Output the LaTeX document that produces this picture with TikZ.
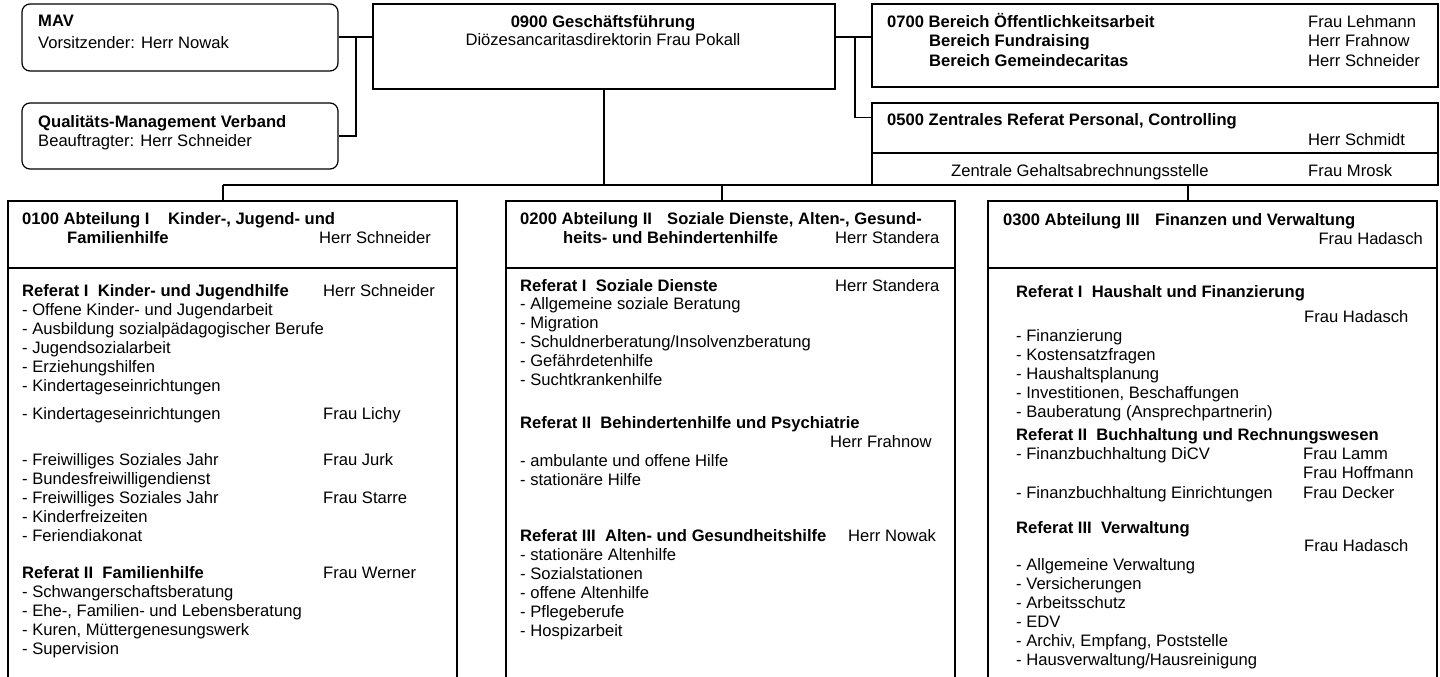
\documentclass[tikz,border=0pt]{standalone}
\usepackage{fontspec}
\setmainfont{Liberation Sans}
\usetikzlibrary{calc}
\newcounter{tn}
\newcommand\T[4][]{\stepcounter{tn}\node[txt,#1] (t\arabic{tn}) at (#2,#3) {#4};}
\newcommand\B[4][]{\T[#1]{#2}{#3}{\bfseries #4}}
\begin{document}
\begin{tikzpicture}[x=1pt,y=-1pt,
  txt/.style={anchor=base west,inner sep=0pt,font=\fontsize{16.6}{19}\selectfont,yshift=-5.7pt},
  box/.style={draw,line width=1.2pt,inner sep=0pt,rectangle},
  rbox/.style={box,rounded corners=8pt},
  gfbox/.style={box,line width=2pt},
  conn/.style={line width=1.2pt}]
\useasboundingbox (0,0) rectangle (1440,677);
\fill[white] (0,0) rectangle (1440,677);
\begin{scope}
\clip (0,0) rectangle (1440,677);
% boxes
\node[rbox,minimum width=316pt,minimum height=67pt] (mav) at (180,37.5) {};
\node[rbox,minimum width=316pt,minimum height=66pt] (qm) at (180,136) {};
\node[gfbox,minimum width=462pt,minimum height=85pt] (gf) at (604,46.5) {};
\node[box,minimum width=566pt,minimum height=83pt] (b07) at (1155,45.5) {};
\node[box,minimum width=566pt,minimum height=82pt] (b05) at (1155,144) {};
\draw[conn] (b05.west |- 0,153) -- (b05.east |- 0,153);
\node[box,minimum width=449pt,minimum height=499pt] (c1) at (232.5,450.5) {};
\node[box,minimum width=449pt,minimum height=499pt] (c2) at (730.5,450.5) {};
\node[box,minimum width=449pt,minimum height=499pt] (c3) at (1212.5,450.5) {};
\draw[conn] (c1.west |- 0,268) -- (c1.east |- 0,268);
\draw[conn] (c2.west |- 0,268) -- (c2.east |- 0,268);
\draw[conn] (c3.west |- 0,268) -- (c3.east |- 0,268);
% connectors
\coordinate (jl) at (356,37);
\coordinate (jr) at (855,37);
\draw[conn] (mav.east |- jl) -- (gf.west |- jl);
\draw[conn] (jl) |- (qm.east);
\draw[conn] (gf.east |- jr) -- (b07.west |- jr);
\draw[conn] (jr) |- ($(b05.north west)+(0,15)$);
\coordinate (busL) at (223,185);
\coordinate (busM) at (722,185);
\coordinate (busR) at (1188,185);
\draw[conn] (gf.south) -- (gf.south |- busL);
\draw[conn] (busL) -- (busR);
\draw[conn] (busL) -- (busL |- c1.north);
\draw[conn] (busM) -- (busM |- c2.north);
\draw[conn] (busR) -- (busR |- c3.north);
% top texts
\B{38}{21}{MAV}
\T{38}{43}{Vorsitzender: Herr Nowak}
\B{38}{122}{Qualitäts-Management Verband}
\T{38}{141}{Beauftragter: Herr Schneider}
\B[anchor=base]{603}{22}{0900 Geschäftsführung}
\T[anchor=base]{603}{40}{Diözesancaritasdirektorin Frau Pokall}
\B{887}{22}{0700 Bereich Öffentlichkeitsarbeit}
\T{1308}{22}{Frau Lehmann}
\B{929}{41}{Bereich Fundraising}
\T{1308}{41}{Herr Frahnow}
\B{929}{61}{Bereich Gemeindecaritas}
\T{1308}{61}{Herr Schneider}
\B{887}{120}{0500 Zentrales Referat Personal, Controlling}
\T{1308}{140}{Herr Schmidt}
\T{951}{171}{Zentrale Gehaltsabrechnungsstelle}
\T{1308}{171}{Frau Mrosk}
% left column
\B{22}{219}{0100 Abteilung I}
\B{168}{219}{Kinder-, Jugend- und}
\B{67}{238}{Familienhilfe}
\T{319}{238}{Herr Schneider}
\B{22}{291}{Referat I\ \ Kinder- und Jugendhilfe}
\T{323}{291}{Herr Schneider}
\T{22}{310}{- Offene Kinder- und Jugendarbeit}
\T{22}{329}{- Ausbildung sozialpädagogischer Berufe}
\T{22}{348}{- Jugendsozialarbeit}
\T{22}{367}{- Erziehungshilfen}
\T{22}{386}{- Kindertageseinrichtungen}
\T{22}{414}{- Kindertageseinrichtungen}
\T{323}{414}{Frau Lichy}
\T{22}{460}{- Freiwilliges Soziales Jahr}
\T{323}{460}{Frau Jurk}
\T{22}{479}{- Bundesfreiwilligendienst}
\T{22}{498}{- Freiwilliges Soziales Jahr}
\T{323}{498}{Frau Starre}
\T{22}{517}{- Kinderfreizeiten}
\T{22}{536}{- Feriendiakonat}
\B{22}{573}{Referat II\ \ Familienhilfe}
\T{323}{573}{Frau Werner}
\T{22}{592}{- Schwangerschaftsberatung}
\T{22}{611}{- Ehe-, Familien- und Lebensberatung}
\T{22}{630}{- Kuren, Müttergenesungswerk}
\T{22}{649}{- Supervision}
% middle column
\B{520}{219}{0200 Abteilung II}
\B{667}{219}{Soziale Dienste, Alten-, Gesund-}
\B{563}{238}{heits- und Behindertenhilfe}
\T{835}{238}{Herr Standera}
\B{520}{286}{Referat I\ \ Soziale Dienste}
\T{835}{286}{Herr Standera}
\T{520}{304}{- Allgemeine soziale Beratung}
\T{520}{323}{- Migration}
\T{520}{342}{- Schuldnerberatung/Insolvenzberatung}
\T{520}{361}{- Gefährdetenhilfe}
\T{520}{380}{- Suchtkrankenhilfe}
\B{520}{423}{Referat II\ \ Behindertenhilfe und Psychiatrie}
\T{830}{442}{Herr Frahnow}
\T{520}{461}{- ambulante und offene Hilfe}
\T{520}{480}{- stationäre Hilfe}
\B{520}{536}{Referat III\ \ Alten- und Gesundheitshilfe}
\T{848}{536}{Herr Nowak}
\T{520}{555}{- stationäre Altenhilfe}
\T{520}{574}{- Sozialstationen}
\T{520}{593}{- offene Altenhilfe}
\T{520}{612}{- Pflegeberufe}
\T{520}{631}{- Hospizarbeit}
% right column
\B{1003}{220}{0300 Abteilung III}
\B{1155}{220}{Finanzen und Verwaltung}
\T[anchor=base east]{1423}{239}{Frau Hadasch}
\B{1016}{292}{Referat I\ \ Haushalt und Finanzierung}
\T{1304}{317}{Frau Hadasch}
\T{1016}{336}{- Finanzierung}
\T{1016}{355}{- Kostensatzfragen}
\T{1016}{374}{- Haushaltsplanung}
\T{1016}{393}{- Investitionen, Beschaffungen}
\T{1016}{412}{- Bauberatung (Ansprechpartnerin)}
\B{1016}{435}{Referat II\ \ Buchhaltung und Rechnungswesen}
\T{1016}{454}{- Finanzbuchhaltung DiCV}
\T{1303}{454}{Frau Lamm}
\T{1303}{473}{Frau Hoffmann}
\T{1016}{493}{- Finanzbuchhaltung Einrichtungen}
\T{1303}{493}{Frau Decker}
\B{1016}{528}{Referat III\ \ Verwaltung}
\T{1304}{546}{Frau Hadasch}
\T{1016}{565}{- Allgemeine Verwaltung}
\T{1016}{584}{- Versicherungen}
\T{1016}{603}{- Arbeitsschutz}
\T{1016}{622}{- EDV}
\T{1016}{641}{- Archiv, Empfang, Poststelle}
\T{1016}{660}{- Hausverwaltung/Hausreinigung}
\end{scope}
\end{tikzpicture}
\end{document}
